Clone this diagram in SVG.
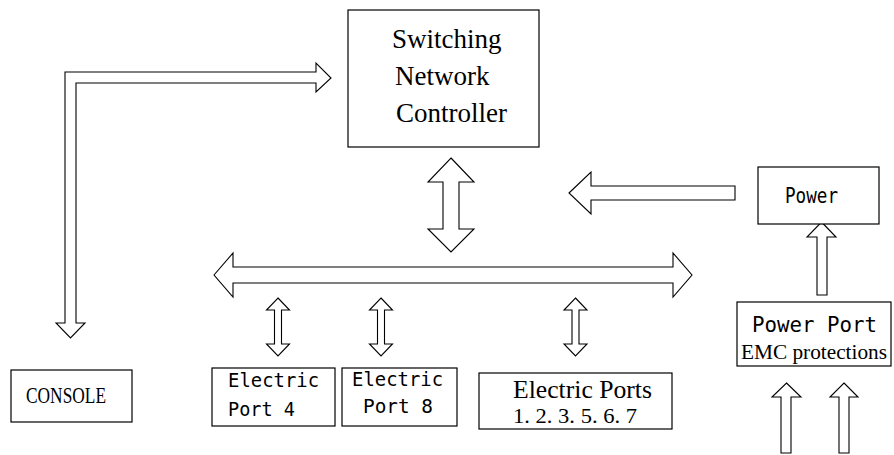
<svg xmlns="http://www.w3.org/2000/svg" width="894" height="455" viewBox="0 0 894 455">
<style>
.box{fill:#fff;stroke:#000;stroke-width:1.2}
.arr{fill:#fff;stroke:#000;stroke-width:1.1;stroke-linejoin:miter}
.serif{font-family:"Liberation Serif","Times New Roman",serif;fill:#000}
.mono{font-family:"DejaVu Sans Mono","Liberation Mono",monospace;fill:#000}
</style>
<rect width="894" height="455" fill="#fff"/>
<g id="connectors">
<polygon class="arr" points="65,72 316,72 316,63 331,78 316,92 316,83 76,83 76,323 85,323 70.5,338 56,323 65,323"/>
<polygon class="arr" points="451,158 474,182 459,182 459,229 474,229 451,252 428,229 443,229 443,182 428,182"/>
<polygon class="arr" points="569,193 591,172 591,186 735,186 735,200 591,200 591,214"/>
<polygon class="arr" points="214,275 233,253 233,267 673,267 673,253 692,275 673,297 673,283 233,283 233,297"/>
<polygon class="arr" points="278,298 289.5,310 281.5,310 281.5,344 289.5,344 278,356 266.5,344 274.5,344 274.5,310 266.5,310"/>
<polygon class="arr" points="381,298 392.5,310 384.5,310 384.5,344 392.5,344 381,356 369.5,344 377.5,344 377.5,310 369.5,310"/>
<polygon class="arr" points="575.5,298 587,310 579,310 579,344 587,344 575.5,356 564,344 572,344 572,310 564,310"/>
<polygon class="arr" points="821.5,222 836,237 827,237 827,295 817,295 817,237 807,237"/>
<polygon class="arr" points="786.5,383 801,397 791,397 791,453 781,453 781,397 772,397"/>
<polygon class="arr" points="844,383 858,397 849,397 849,453 839,453 839,397 830,397"/>
</g>
<g id="controller">
<rect class="box" x="348" y="10" width="191" height="137"/>
<text class="serif" x="392" y="48" font-size="27">Switching</text>
<text class="serif" x="395" y="85" font-size="27">Network</text>
<text class="serif" x="396" y="122" font-size="27">Controller</text>
</g>
<g id="console">
<rect class="box" x="11" y="370" width="121" height="52"/>
<text class="serif" x="26" y="403" font-size="24" textLength="80" lengthAdjust="spacingAndGlyphs">CONSOLE</text>
</g>
<g id="port4">
<rect class="box" x="212" y="368" width="123" height="58"/>
<text class="mono" x="228" y="387" font-size="20" textLength="91" lengthAdjust="spacingAndGlyphs">Electric</text>
<text class="mono" x="228" y="416" font-size="20" textLength="67" lengthAdjust="spacingAndGlyphs">Port 4</text>
</g>
<g id="port8">
<rect class="box" x="342" y="368" width="115" height="58"/>
<text class="mono" x="352" y="386" font-size="20" textLength="91" lengthAdjust="spacingAndGlyphs">Electric</text>
<text class="mono" x="363" y="413" font-size="20" textLength="70" lengthAdjust="spacingAndGlyphs">Port 8</text>
</g>
<g id="ports">
<rect class="box" x="479" y="373" width="193" height="56"/>
<text class="serif" x="513" y="398" font-size="25.5" textLength="139" lengthAdjust="spacingAndGlyphs">Electric Ports</text>
<text class="serif" x="513" y="423" font-size="21" textLength="124" lengthAdjust="spacingAndGlyphs">1. 2. 3. 5. 6. 7</text>
</g>
<g id="power">
<rect class="box" x="758" y="167" width="121" height="57"/>
<text class="mono" x="785" y="203" font-size="20.5" textLength="53" lengthAdjust="spacingAndGlyphs">Power</text>
</g>
<g id="powerport">
<rect class="box" x="737" y="302" width="154" height="64"/>
<text class="mono" x="752" y="332" font-size="20.5" textLength="125" lengthAdjust="spacingAndGlyphs">Power Port</text>
<text class="serif" x="741" y="359" font-size="21" textLength="146" lengthAdjust="spacingAndGlyphs">EMC protections</text>
</g>
</svg>
